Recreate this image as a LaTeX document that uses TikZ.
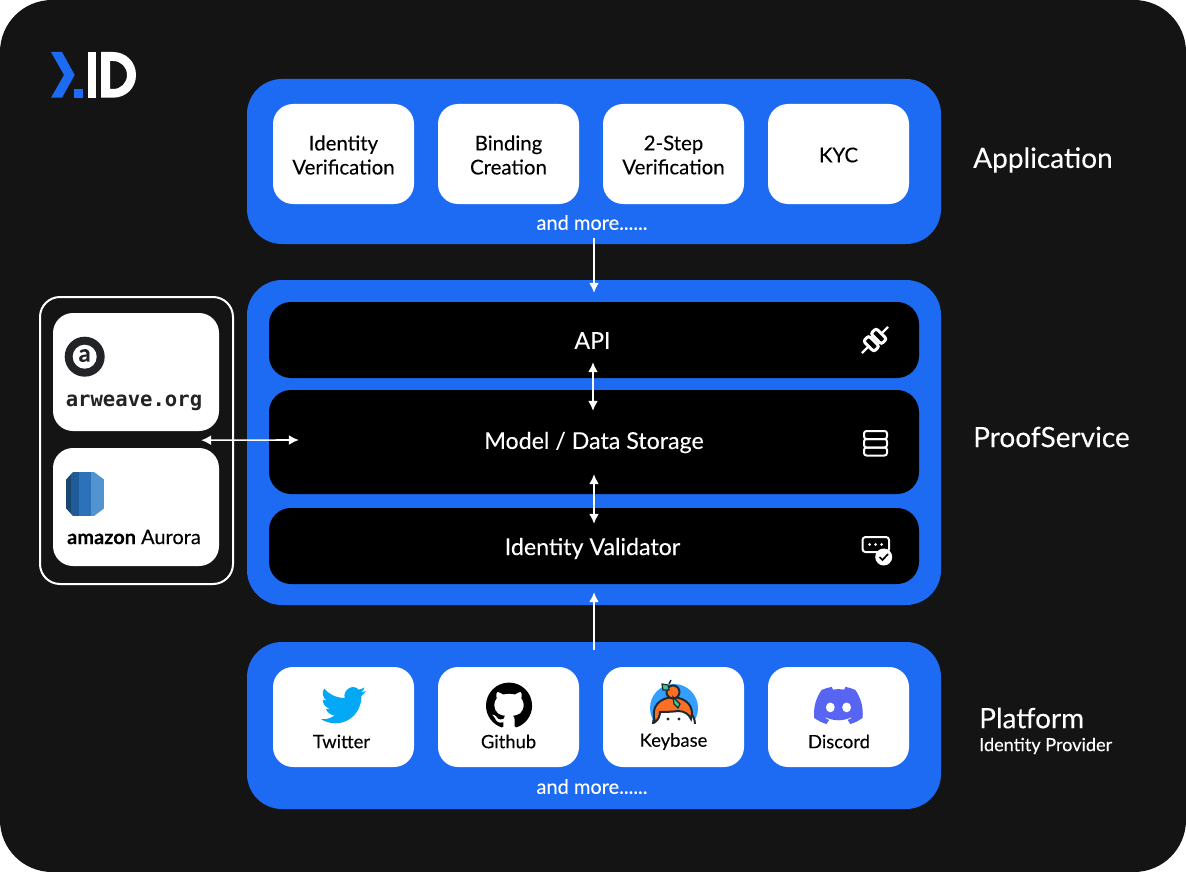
\documentclass[tikz,border=0pt]{standalone}
\usepackage{fontspec}
\setmainfont{Lato}[FakeBold=0.12]
\setmonofont{DejaVu Sans Mono}
\usetikzlibrary{arrows.meta,svg.path}

\definecolor{pagebg}{HTML}{141414}
\definecolor{idblue}{HTML}{1C6BF2}
\definecolor{inkdark}{HTML}{222326}
\definecolor{birdblue}{HTML}{03A9F4}
\definecolor{discordblue}{HTML}{5865F2}
\definecolor{kbblue}{HTML}{33A0FF}
\definecolor{kborange}{HTML}{FF6F21}
\definecolor{kbgreen}{HTML}{3CCB8E}
\definecolor{kbink}{HTML}{1E2A33}
\definecolor{staveone}{HTML}{1A476F}
\definecolor{stavetwo}{HTML}{1F5B98}
\definecolor{stavethree}{HTML}{2D72B8}
\definecolor{stavefour}{HTML}{5294CF}

\tikzset{
    panel/.style={fill=idblue, rounded corners=35pt, inner sep=0pt, minimum width=694pt},
    card/.style={fill=white, rounded corners=20pt, inner sep=0pt, minimum width=141pt},
    cardlabel/.style={inner sep=0pt, align=center, text=black, font=\fontsize{20.4}{24}\selectfont},
    bar/.style={fill=black, rounded corners=22pt, inner sep=0pt, minimum width=650pt},
    barlabel/.style={inner sep=0pt, text=white, font=\fontsize{23.2}{26}\selectfont},
    sidelabel/.style={anchor=west, inner sep=0pt, text=white, font=\fontsize{28}{32}\selectfont},
    morelabel/.style={inner sep=0pt, text=white, font=\fontsize{20}{24}\selectfont},
    iconlabel/.style={inner sep=0pt, text=black, font=\fontsize{18.4}{22}\selectfont},
    flow/.style={draw=white, line width=1.6pt, -{Latex[length=10pt,width=10pt]}},
    flowboth/.style={draw=white, line width=1.6pt, {Latex[length=10pt,width=10pt]}-{Latex[length=10pt,width=10pt]}},
    iconline/.style={draw=white, line width=2pt, rounded corners=2.5pt}
}

\begin{document}
\begin{tikzpicture}[x=1pt, y=-1pt]
    \useasboundingbox (0,0) rectangle (1186,872);
    \fill[pagebg, rounded corners=52pt] (0,0) rectangle (1186,872);

    % logo
    \fill[idblue] (51,52) -- (62,52) -- (74.7,75) -- (62,97.7) -- (51,97.7) -- (64,75) -- cycle;
    \fill[idblue] (74,89) rectangle (83,97.7);
    \fill[white] (87.7,52) rectangle (96,97.7);
    \fill[white, even odd rule] (101,52) -- (113,52) .. controls (126,52) and (136,62) .. (136,75)
        .. controls (136,88) and (126,97.7) .. (113,97.7) -- (101,97.7) -- cycle
        (110,61) -- (110,89) -- (113,89) .. controls (121,89) and (127,83) .. (127,75)
        .. controls (127,67) and (121,61) .. (113,61) -- cycle;

    % panels
    \node[panel, minimum height=165pt] (apppanel) at (594,161.5) {};
    \node[panel, minimum height=325pt] (proofpanel) at (594,442.5) {};
    \node[panel, minimum height=167pt] (platpanel) at (594,725.5) {};

    % application
    \foreach \x/\name/\txt in {343.5/identity/{Identity\\Verification}, 508.5/binding/{Binding\\Creation},
        673.5/twostep/{2-Step\\Verification}, 838.5/kyc/{KYC}} {
        \node[card, minimum height=100pt] (\name) at (\x,154) {};
        \node[cardlabel] (\name label) at (\x,155) {\txt};
    }
    \node[morelabel] (appmore) at (592,222.5) {and more......};
    \node[sidelabel] (applabel) at (973,160) {Application};

    % proof service
    \node[bar, minimum height=76pt] (api) at (594,340) {};
    \node[bar, minimum height=104pt] (model) at (594,442) {};
    \node[bar, minimum height=76pt] (validator) at (594,546) {};
    \node[barlabel] (apilabel) at (592.5,340.5) {API};
    \node[barlabel] (modellabel) at (594,442.5) {Model / Data Storage};
    \node[barlabel] (validatorlabel) at (592.5,548.5) {Identity Validator};
    \node[sidelabel] (prooflabel) at (973,437) {ProofService};

    % bar icons
    \begin{scope}[shift={(875,340)}, rotate=45]
        \draw[white, line width=2.4pt] (-18.5,0) -- (-9,0) (9,0) -- (18.5,0);
        \draw[iconline, line width=3pt, fill=black] (-9,-7.5) rectangle (-1.5,7.5);
        \draw[iconline, line width=3pt, fill=black] (1.5,-7.5) rectangle (9,7.5);
    \end{scope}
    \draw[iconline] (864,431) rectangle (887,439);
    \draw[iconline] (864,439) rectangle (887,447.5);
    \draw[iconline] (864,447.5) rectangle (887,455.5);
    \draw[iconline, rounded corners=3pt] (862.5,537) rectangle (889,552);
    \foreach \x in {869.5,875.5,881.5} {
        \fill[white] (\x,544.5) circle (1.5);
    }
    \fill[white] (883.7,557) circle (8.5);
    \draw[black, line width=1.7pt] (879.5,557) -- (882.5,560) -- (888,554);

    % storage group
    \draw[white, line width=2pt, rounded corners=20pt] (40,297) rectangle (233,584);
    \node[card, minimum width=166pt, minimum height=118pt] (arweave) at (136,372) {};
    \node[card, minimum width=166pt, minimum height=118pt] (aurora) at (136,507) {};

    \fill[inkdark] (84.7,356.7) circle (20);
    \fill[white] (84.7,356.7) circle (12);
    \node[inner sep=0pt, text=inkdark, font=\fontsize{24}{24}\selectfont\bfseries] (arweavea) at (84.7,355.5) {a};
    \node[inner sep=0pt, text=inkdark, font=\fontsize{20.6}{24}\selectfont\ttfamily\bfseries] (arweavetxt) at (134,402.5) {arweave.org};

    % aurora barrel, four staves
    \begin{scope}
        \clip (73,472) -- (94,472) -- (104.7,480) -- (104.7,508) -- (94,516) -- (73,516) -- (65.7,508) -- (65.7,480) -- cycle;
        \fill[staveone] (65.7,472) rectangle (70.7,516);
        \fill[stavetwo] (70.7,472) rectangle (79,516);
        \fill[stavethree] (79,472) rectangle (91,516);
        \fill[stavefour] (91,472) rectangle (104.7,516);
    \end{scope}
    \node[inner sep=0pt, text=black, font=\fontsize{20}{24}\selectfont] (auroratxt) at (134,537) {\textbf{amazon} Aurora};

    % platform
    \foreach \x/\lx/\name/\txt in {343.5/341.5/twitter/Twitter, 508.5/508.5/github/Github,
        673.5/673.5/keybase/Keybase, 838.5/839/discord/Discord} {
        \node[card, minimum height=100pt] (\name) at (\x,717) {};
        \node[iconlabel] (\name label) at (\lx,741.5) {\txt};
    }
    \node[morelabel] (platmore) at (592,786.5) {and more......};
    \node[sidelabel] (platlabel) at (979,718) {Platform};
    \node[anchor=west, inner sep=0pt, text=white, font=\fontsize{18.1}{20}\selectfont] (platsub) at (979,746) {Identity Provider};

    % platform icons
    \begin{scope}[shift={(321,682.5)}, xscale=1.875, yscale=-1.875]
        \fill[birdblue] svg {M 23.95 4.57 C 23.05 4.97 22.1 5.23 21.13 5.35 C 22.15 4.74 22.92 3.78 23.29 2.62 C 22.34 3.18 21.29 3.58 20.16 3.8 C 18.83 2.38 16.7 2.05 15 3 C 13.1 4.05 12.1 6.2 12.6 8.29 C 7.69 8.1 4.07 6.13 1.64 3.16 C 0.98 4.3 0.78 5.6 1.05 6.85 C 1.35 8.05 2.1 9.05 3.16 9.73 C 2.38 9.71 1.62 9.5 0.93 9.12 L 0.93 9.18 C 0.93 11.5 2.6 13.55 4.88 14 C 4.16 14.2 3.4 14.23 2.66 14.09 C 3.3 16.05 5.2 17.45 7.27 17.5 C 5.55 18.85 3.4 19.6 1.17 19.6 C 0.78 19.6 0.39 19.58 0 19.54 C 2.25 20.97 4.87 21.75 7.56 21.75 C 16.6 21.75 21.55 14.25 21.55 7.77 C 21.55 7.56 21.55 7.35 21.54 7.14 C 22.5 6.44 23.33 5.58 24 4.59 Z};
    \end{scope}
    \begin{scope}[shift={(486,682)}, xscale=1.92, yscale=-1.92]
        \fill[black] svg {M 12 0.297 c -6.63 0 -12 5.373 -12 12 0 5.303 3.438 9.8 8.205 11.385 0.6 0.113 0.82 -0.258 0.82 -0.577 0 -0.285 -0.01 -1.04 -0.015 -2.04 -3.338 0.724 -4.042 -1.61 -4.042 -1.61 C 4.422 18.07 3.633 17.7 3.633 17.7 c -1.087 -0.744 0.084 -0.729 0.084 -0.729 1.205 0.084 1.838 1.236 1.838 1.236 1.07 1.835 2.809 1.305 3.495 0.998 0.108 -0.776 0.417 -1.305 0.76 -1.605 -2.665 -0.3 -5.466 -1.332 -5.466 -5.93 0 -1.31 0.465 -2.38 1.235 -3.22 -0.135 -0.303 -0.54 -1.523 0.105 -3.176 0 0 1.005 -0.322 3.3 1.23 0.96 -0.267 1.98 -0.399 3 -0.405 1.02 0.006 2.04 0.138 3 0.405 2.28 -1.552 3.285 -1.23 3.285 -1.23 0.645 1.653 0.24 2.873 0.12 3.176 0.765 0.84 1.23 1.91 1.23 3.22 0 4.61 -2.805 5.625 -5.475 5.92 0.42 0.36 0.81 1.096 0.81 2.22 0 1.606 -0.015 2.896 -0.015 3.286 0 0.315 0.21 0.69 0.825 0.57 C 20.565 22.092 24 17.592 24 12.297 c 0 -6.627 -5.373 -12 -12 -12 Z};
    \end{scope}
    \begin{scope}[shift={(814,681)}, xscale=2.04, yscale=-2.04]
        \fill[discordblue] svg {M 20.3 4.4 C 18.8 3.7 17.1 3.2 15.4 2.9 C 15.2 3.3 14.95 3.8 14.8 4.2 C 13 3.9 11.1 3.9 9.3 4.2 C 9.1 3.8 8.9 3.3 8.7 2.9 C 6.9 3.2 5.3 3.7 3.7 4.4 C 0.5 9.05 -0.3 13.6 0.1 18.1 C 2.2 19.6 4.2 20.5 6.1 21.1 C 6.6 20.5 7 19.8 7.4 19.1 C 6.7 18.9 6.1 18.6 5.5 18.2 L 5.9 17.9 C 9.9 19.7 14.1 19.7 18 17.9 L 18.4 18.2 C 17.8 18.6 17.2 18.9 16.5 19.1 C 16.9 19.8 17.3 20.5 17.8 21.1 C 19.8 20.5 21.8 19.6 23.8 18.1 C 24.3 12.9 23 8.4 20.3 4.4 Z};
    \end{scope}
    \fill[white] (830.3,707.4) ellipse (4.4 and 4.9);
    \fill[white] (846.6,707.4) ellipse (4.4 and 4.9);

    % keybase head
    \begin{scope}
        \clip (640,675) rectangle (710,723);
        \fill[kbblue] (674,708) circle (24);
        \fill[white, draw=kbink, line width=2pt] (674,724) ellipse (21 and 18);
        \fill[kborange, draw=kbink, line width=2pt] (655,722) .. controls (650,706) and (660,698) .. (673,697)
            .. controls (686,698) and (695,706) .. (691,719) .. controls (689,714) and (684,711) .. (678,711)
            .. controls (670,712) and (664,712) .. (660,712) .. controls (660,716) and (658,720) .. (655,722) -- cycle;
    \end{scope}
    \fill[kborange, draw=kbink, line width=2pt] (673,692) circle (6.5);
    \fill[kbgreen, draw=kbink, line width=1.2pt] (662,684) -- (668,685) -- (669,690) -- (663,690) -- cycle;
    \draw[kbink, line width=1.5pt] (669,684) -- (671,680);
    \fill[kbgreen, draw=kbink, line width=1.2pt] (673,697) -- (680,704) -- (678,708) -- (674,704) -- cycle;
    \fill[kbink] (668,719) circle (1.7);
    \fill[kbink] (679,719) circle (1.7);

    % connectors
    \draw[flow] ([yshift=6pt]apppanel.south) -- ([yshift=-13pt]proofpanel.north);
    \draw[flowboth] ([xshift=-1pt,yshift=16pt]api.south) -- ([xshift=-1pt,yshift=-21pt]model.north);
    \draw[flowboth] ([yshift=20pt]model.south) -- ([yshift=-16pt]validator.north);
    \draw[flowboth] ([xshift=-18pt,yshift=-9pt]arweave.south east) -- ([xshift=30pt,yshift=2pt]model.west);
    \draw[flow] ([yshift=-8pt]platpanel.north) -- ([yshift=13pt]proofpanel.south);
\end{tikzpicture}
\end{document}
